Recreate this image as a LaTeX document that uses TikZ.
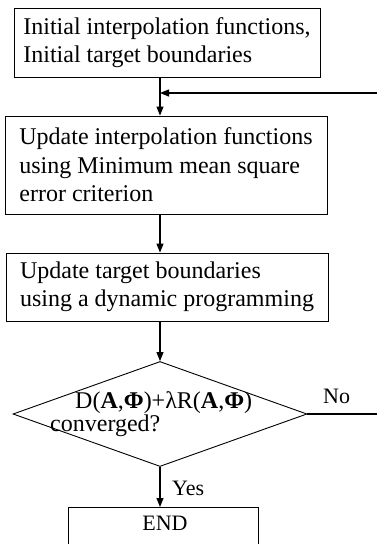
\documentclass[tikz,border=0pt]{standalone}
\usepackage{fontspec}
\setmainfont{Liberation Serif}
\usetikzlibrary{shapes.geometric,arrows.meta}
\begin{document}
\begin{tikzpicture}[x=1pt,y=-1pt,
  box/.style={draw, line width=0.9pt, rectangle, inner sep=0pt, align=left,
    font=\fontsize{24}{28.5}\selectfont},
  decision/.style={draw, line width=0.9pt, diamond, inner sep=0pt},
  flow/.style={line width=1.2pt, -{Triangle[length=9pt,width=7pt]}},
  lbl/.style={inner sep=0pt, anchor=base west, font=\fontsize{22}{26}\selectfont},
  dtxt/.style={inner sep=0pt, anchor=base west, font=\fontsize{24}{26}\selectfont}]
\useasboundingbox (0,0) rectangle (376,544);
% boxes
\node[box, minimum width=306pt, minimum height=69pt] (init) at (167,42.5)
  {Initial interpolation functions,\\Initial target boundaries};
\node[box, minimum width=322pt, minimum height=98pt] (upd1) at (166,165)
  {Update interpolation functions\\using Minimum mean square\\error criterion};
\node[box, minimum width=322pt, minimum height=68pt] (upd2) at (167,287)
  {Update target boundaries\\using a dynamic programming};
\node[decision, minimum width=294pt, minimum height=105pt] (conv) at (160,414) {};
\node[dtxt] (cond1) at (75,408) {D(\textbf{A},\textbf{Φ})+λR(\textbf{A},\textbf{Φ})};
\node[dtxt] (cond2) at (50,431) {converged?};
\node[draw, line width=0.9pt, rectangle, inner sep=0pt, minimum width=190pt,
  minimum height=80pt, anchor=north] (end) at (163,507) {};
\node[inner sep=0pt, anchor=base, font=\fontsize{22}{26}\selectfont] (endtxt) at (165,530) {END};
% connectors
\draw[flow] (conv.north |- init.south) -- (conv.north |- upd1.north);
\draw[flow] (conv.north |- upd1.south) -- (conv.north |- upd2.north);
\draw[flow] (conv.north |- upd2.south) -- (conv.north);
\draw[flow] (conv.south) -- (conv.south |- end.north);
\coordinate (rb) at (386,414);
\coordinate (rt) at (386,93);
\coordinate (join) at (160,93);
\draw[flow] (conv.east) -- (rb) -- (rt) -- (join);
% labels
\node[lbl] (no) at (323,403) {No};
\node[lbl] (yes) at (172,495) {Yes};
\end{tikzpicture}
\end{document}
